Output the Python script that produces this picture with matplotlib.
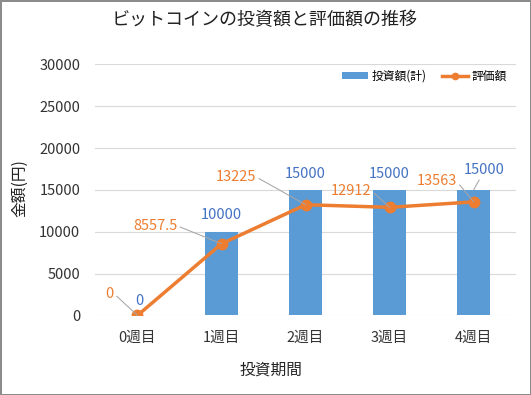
import matplotlib

matplotlib.use("Agg")
import matplotlib.pyplot as plt  # noqa: E402
import numpy as np  # noqa: E402

plt.rcParams["font.family"] = ["Noto Sans CJK JP", "DejaVu Sans"]

# data
weeks = ["0週目", "1週目", "2週目", "3週目", "4週目"]
invested = [0, 10000, 15000, 15000, 15000]        # 投資額(計)
valuation = [0, 8557.5, 13225, 12912, 13563]      # 評価額
valuation_labels = ["0", "8557.5", "13225", "12912", "13563"]
yticks = [0, 5000, 10000, 15000, 20000, 25000, 30000]

BAR = "#5B9BD5"
LINE = "#ED7D31"
BLUE_TXT = "#4472C4"
GRID = "#D9D9D9"
LEADER = "#A6A6A6"
TXT = "#333333"

# label placement (x offset in categories, y in data units) - hand tuned
inv_label_pos = [(0.02, 1750), (0.0, 11950), (0.0, 16950), (0.0, 16950), (0.13, 17350)]
inv_leader = [False, False, False, False, True]
val_label_pos = [(-0.33, 2600), (0.21, 10700), (1.17, 16550), (2.54, 14900), (3.56, 16000)]

fig = plt.figure(figsize=(5.31, 3.95), dpi=100, edgecolor="#8C8C8C", linewidth=2)
ax = fig.add_axes([0.1798, 0.2015, 0.7914, 0.6357])

x = np.arange(len(weeks))
bars = ax.bar(x, invested, width=0.4, color=BAR, label="投資額(計)", zorder=2)
line, = ax.plot(x, valuation, color=LINE, lw=2.5, marker="o", ms=7.5, label="評価額", zorder=3)

ax.set_xlim(-0.5, len(weeks) - 0.5)
ax.set_ylim(0, 30000)
ax.set_yticks(yticks)
ax.set_yticklabels([str(v) for v in yticks])
ax.set_xticks(x)
ax.set_xticklabels(weeks)
ax.tick_params(axis="both", length=0, labelsize=10.5, colors=TXT)
ax.tick_params(axis="y", pad=11)
ax.tick_params(axis="x", pad=11)
ax.yaxis.grid(True, color=GRID, lw=0.8)
ax.set_axisbelow(True)
for s in ax.spines.values():
    s.set_visible(False)

# bar value labels
for i, v in enumerate(invested):
    lx, ly = inv_label_pos[i]
    if inv_leader[i]:
        ax.annotate(str(v), xy=(i, v), xytext=(i + lx, ly), ha="center", va="center",
                    fontsize=10.5, color=BLUE_TXT, zorder=5,
                    arrowprops=dict(arrowstyle="-", color=LEADER, lw=0.75, shrinkA=0, shrinkB=0))
    else:
        ax.text(i + lx, ly, str(v), ha="center", va="center", fontsize=10.5,
                color=BLUE_TXT, zorder=5)

# valuation labels with leader lines
for i, v in enumerate(valuation):
    lx, ly = val_label_pos[i]
    ax.annotate(valuation_labels[i], xy=(i, v), xytext=(lx, ly), ha="center", va="center",
                fontsize=10.5, color=LINE, zorder=5,
                arrowprops=dict(arrowstyle="-", color=LEADER, lw=0.75, relpos=(1, 0.5),
                                shrinkA=0, shrinkB=0))

ax.legend([bars, line], ["投資額(計)", "評価額"], loc="center right",
          bbox_to_anchor=(0.99, 0.954), ncol=2, frameon=False,
          fontsize=8.5, handlelength=2.2, handleheight=0.5, handletextpad=0.3,
          columnspacing=1.3, borderaxespad=0, markerscale=0.6)

fig.text(0.499, 0.949, "ビットコインの投資額と評価額の推移", ha="center", va="center",
         fontsize=13, color="#222222")
fig.text(0.038, 0.524, "金額(円)", rotation=90, ha="center", va="center",
         fontsize=11.3, color="#222222")
fig.text(0.510, 0.064, "投資期間", ha="center", va="center", fontsize=11.3, color="#222222")

fig.savefig("out.png", dpi=100)
